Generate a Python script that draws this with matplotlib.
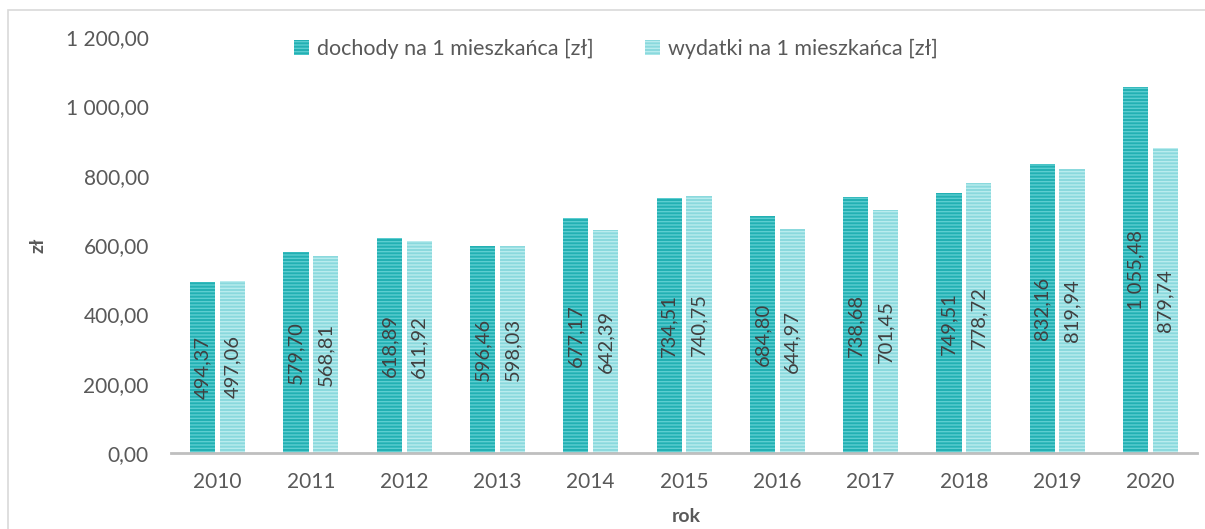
import matplotlib
matplotlib.use("Agg")
import matplotlib.pyplot as plt
import numpy as np
from matplotlib.patches import Rectangle
from matplotlib.ticker import FuncFormatter

plt.rcParams["font.family"] = ["Lato", "DejaVu Sans"]
plt.rcParams["hatch.linewidth"] = 1.0

years = ["2010", "2011", "2012", "2013", "2014", "2015", "2016", "2017", "2018", "2019", "2020"]
dochody = [494.37, 579.70, 618.89, 596.46, 677.17, 734.51, 684.80, 738.68, 749.51, 832.16, 1055.48]
wydatki = [497.06, 568.81, 611.92, 598.03, 642.39, 740.75, 644.97, 701.45, 778.72, 819.94, 879.74]


def pl_fmt(v, pos=None):
    return f"{v:,.2f}".replace(",", " ").replace(".", ",")


fig = plt.figure(figsize=(12.05, 5.29), dpi=100)
ax = fig.add_axes([0.1419, 0.1437, 0.8515, 0.7864])

# chart frame
fig.patches.append(Rectangle((8 / 1205, -0.1), 1.2, (519 / 529) + 0.1,
                             transform=fig.transFigure, fill=False,
                             edgecolor="#d9d9d9", linewidth=1.2))

x = np.arange(len(years))
w = 0.27
off = 0.16
b1 = ax.bar(x - off, dochody, w, color="#22b0b3", edgecolor="#5ccdd0",
            hatch="-----", linewidth=0, label="dochody na 1 mieszkańca [zł]")
b2 = ax.bar(x + off, wydatki, w, color="#8ad9dd", edgecolor="#b9ecee",
            hatch="-----", linewidth=0, label="wydatki na 1 mieszkańca [zł]")

for bars, vals in ((b1, dochody), (b2, wydatki)):
    for r, v in zip(bars, vals):
        ax.text(r.get_x() + r.get_width() / 2, v / 2, pl_fmt(v), rotation=90,
                ha="center", va="center", fontsize=14.5, color="#404040")

ax.set_xlim(-0.5, len(years) - 0.5)
ax.set_ylim(0, 1200)
ax.set_yticks(np.arange(0, 1201, 200))
ax.yaxis.set_major_formatter(FuncFormatter(pl_fmt))
ax.set_xticks(x)
ax.set_xticklabels(years)
ax.tick_params(axis="both", length=0, labelsize=15, labelcolor="#595959")
ax.tick_params(axis="y", pad=16)
ax.tick_params(axis="x", pad=14)
for s in ["top", "right", "left"]:
    ax.spines[s].set_visible(False)
ax.spines["bottom"].set_color("#bfbfbf")
ax.spines["bottom"].set_linewidth(2)

fig.text(38 / 1205, 1 - 245 / 529, "zł", rotation=90, ha="center", va="center",
         fontsize=14, fontweight="bold", color="#595959")
fig.text(686 / 1205, 1 - 517 / 529, "rok", ha="center", va="center",
         fontsize=14, fontweight="bold", color="#595959")

ax.legend(loc="center", bbox_to_anchor=(616 / 1205, 1 - 49 / 529),
          bbox_transform=fig.transFigure, ncol=2, frameon=False, fontsize=15.5,
          labelcolor="#595959", handlelength=0.7, handleheight=0.7,
          handletextpad=0.35, columnspacing=2.4)

fig.savefig("out.png", dpi=100)
